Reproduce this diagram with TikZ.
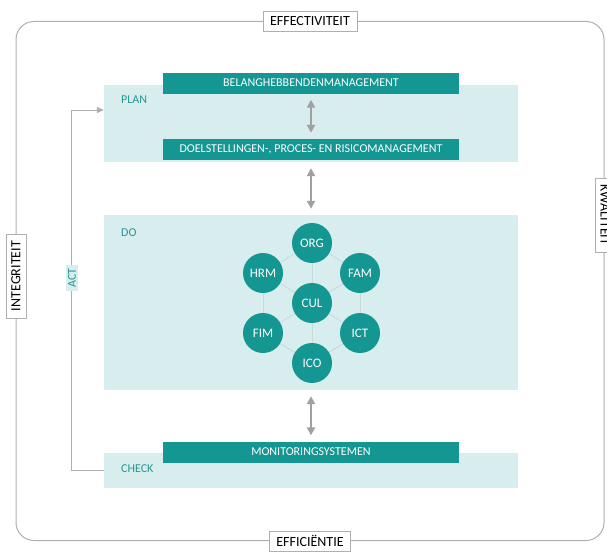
\documentclass[tikz,border=0pt]{standalone}
\usepackage{fontspec}
\setmainfont{Carlito}
\usetikzlibrary{positioning,arrows.meta}

\definecolor{tealdark}{RGB}{20,150,146}
\definecolor{tealband}{RGB}{216,237,237}
\definecolor{tealtext}{RGB}{40,150,145}
\definecolor{tealline}{RGB}{200,218,218}
\definecolor{framegray}{RGB}{175,175,175}
\definecolor{arrowgray}{RGB}{160,160,160}

\begin{document}
\begin{tikzpicture}[ % coordinates are pixels of the 607x551 image
x=1pt, y=-1pt,
band/.style={rectangle, fill=tealband, minimum width=414pt, inner sep=0pt},
bar/.style={rectangle, fill=tealdark, text=white, minimum width=296pt, minimum height=21pt, inner sep=0pt, font=\fontsize{12}{14}\selectfont},
phase_text/.style={anchor=west, text=tealtext, inner sep=0pt, font=\fontsize{12}{14}\selectfont},
unit/.style={circle, fill=tealdark, text=white, minimum size=40pt, inner sep=0pt, font=\fontsize{13}{15}\selectfont},
side_label/.style={rectangle, draw=framegray, fill=white, line width=0.6pt, inner xsep=7pt, minimum height=20pt, font=\fontsize{14}{16}\selectfont},
act_label/.style={rectangle, fill=tealband, text=tealtext, inner xsep=3pt, inner ysep=2pt, font=\fontsize{12}{14}\selectfont},
frame_box/.style={rectangle, draw=framegray, line width=1pt, rounded corners=18pt, minimum width=588pt, minimum height=519pt},
both_arrow/.style={{Triangle[width=8pt,length=8pt]}-{Triangle[width=8pt,length=8pt]}, line width=2.5pt, draw=arrowgray, shorten <=6pt, shorten >=6pt},
act_arrow/.style={-{Triangle[width=6pt,length=7pt]}, draw=framegray, line width=1pt},
web_line/.style={draw=tealline, line width=0.8pt}
]

\useasboundingbox (0,0) rectangle (607,551);
\clip (0,0) rectangle (607,551);

\node[frame_box](frame) at (310,281) {};

\node[side_label](effectiviteit) at (frame.north) {EFFECTIVITEIT};
\node[side_label](efficientie) at (frame.south) {EFFICIËNTIE};
\node[side_label, rotate=90](integriteit) at (16,276) {INTEGRITEIT};
\node[side_label, rotate=-90](kwaliteit) at (605,215) {KWALITEIT};

\node[band, minimum height=77pt](plan_band) at (311,123.5) {};
\node[band, minimum height=175pt](do_band) at (311,302.5) {};
\node[band, minimum height=35pt](check_band) at (311,470.5) {};

\node[phase_text](plan_text) at (121,100) {PLAN};
\node[phase_text](do_text) at (121,233) {DO};
\node[phase_text](check_text) at (121,469) {CHECK};

\node[bar](stakeholder_bar) at (311,83) {BELANGHEBBENDENMANAGEMENT};
\node[bar](goals_bar) at (311,149.5) {DOELSTELLINGEN-, PROCES- EN RISICOMANAGEMENT};
\node[bar](monitoring_bar) at (311,452) {MONITORINGSYSTEMEN};

\node[unit](org) at (312,243) {ORG};
\node[unit](hrm) at (263,273) {HRM};
\node[unit](fam) at (360,273) {FAM};
\node[unit](cul) at (312,303) {CUL};
\node[unit](fim) at (263,333) {FIM};
\node[unit](ict) at (360,333) {ICT};
\node[unit](ico) at (312,363) {ICO};

\draw[web_line](org) -- (fam);
\draw[web_line](fam) -- (ict);
\draw[web_line](ict) -- (ico);
\draw[web_line](ico) -- (fim);
\draw[web_line](fim) -- (hrm);
\draw[web_line](hrm) -- (org);
\draw[web_line](org) -- (cul);
\draw[web_line](fam) -- (cul);
\draw[web_line](ict) -- (cul);
\draw[web_line](ico) -- (cul);
\draw[web_line](fim) -- (cul);
\draw[web_line](hrm) -- (cul);

\draw[both_arrow](stakeholder_bar) to [] (goals_bar);
\draw[both_arrow](plan_band) to [] (do_band);
\draw[both_arrow](do_band) to [] (monitoring_bar);

\coordinate (act_bottom) at (71,470.5);
\coordinate (act_top) at (71,110);
\draw[act_arrow](check_band.west) -- (act_bottom) -- (act_top) -- (plan_band.west |- act_top);
\node[act_label, rotate=90](act) at (72,278) {ACT};

\end{tikzpicture}
\end{document}
